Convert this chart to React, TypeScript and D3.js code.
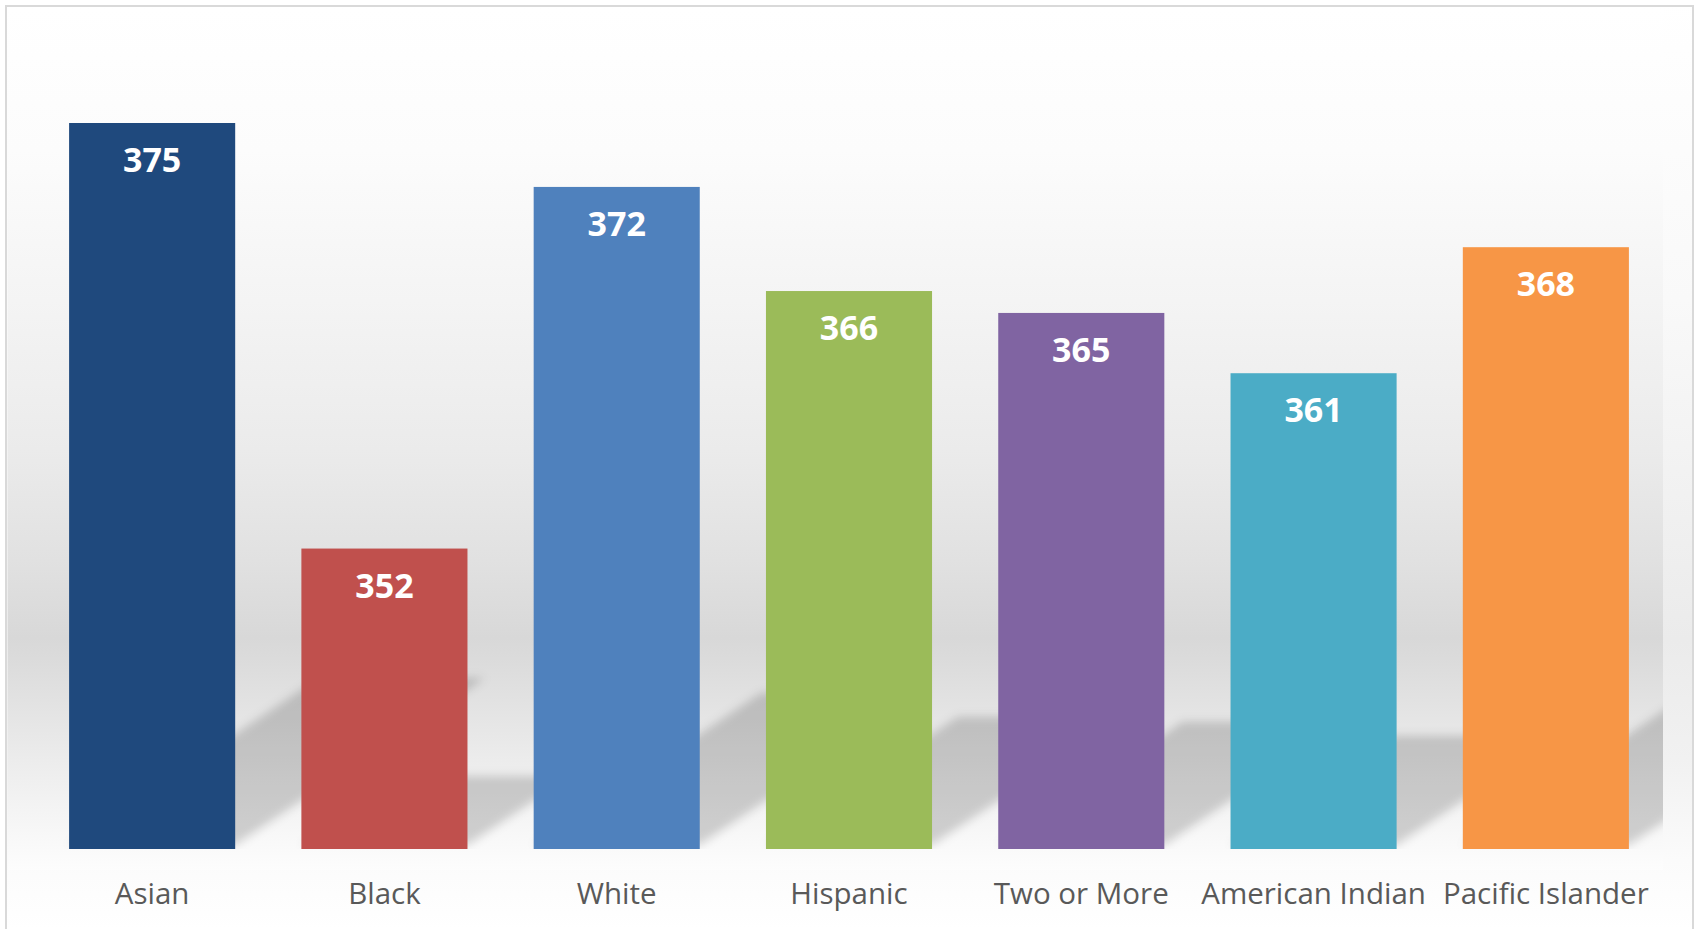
import React, { useEffect } from "react";
import * as d3 from "d3";

const categories = ["Asian", "Black", "White", "Hispanic", "Two or More", "American Indian", "Pacific Islander"];
const values = [375.1, 351.8, 371.6, 365.9, 364.7, 361.4, 368.3];
const labels = ["375", "352", "372", "366", "365", "361", "368"];
const colors = ["#1F497D", "#C0504D", "#4F81BD", "#9BBB59", "#8064A2", "#4BACC6", "#F79646"];

const W = 1697;
const H = 929;
const PLOT = { left: 8, right: 1663, top: 8, bottom: 870 };
const X_RANGE: [number, number] = [36, 1662];
const Y_DOMAIN: [number, number] = [335.35, 375.1];
const Y_RANGE: [number, number] = [849, 123];
const SHADOW_K = 0.23;
const SHADOW_S = 0.344;

export default function App() {
  useEffect(() => {
    document.body.style.margin = "0";
  }, []);

  const x = d3.scaleBand<string>().domain(categories).range(X_RANGE).paddingInner(0.285).paddingOuter(0.1425);
  const y = d3.scaleLinear().domain(Y_DOMAIN).range(Y_RANGE);
  const base = y(Y_DOMAIN[0]);

  const plotStops: [number, string][] = [
    [8, "#ffffff"], [150, "#fcfcfc"], [300, "#f4f4f4"], [450, "#ebebeb"], [560, "#e1e1e1"],
    [638, "#d8d8d8"], [665, "#dcdcdc"], [760, "#ececec"], [850, "#fafafa"], [870, "#fdfdfd"],
  ];
  const chartStops: [number, string][] = [
    [0, "#ffffff"], [300, "#f9f9f9"], [640, "#ebebeb"], [760, "#f1f1f1"], [860, "#fbfbfb"], [929, "#ffffff"],
  ];

  const shadowPath = (i: number) => {
    const x0 = x(categories[i])!;
    const x1 = x0 + x.bandwidth();
    const h = base - y(values[i]);
    const dx = h * SHADOW_S;
    const dy = h * SHADOW_K;
    const b = base - 4;
    return `M${x0},${b}L${x1},${b}L${x1 + dx},${b - dy}L${x0 + dx},${b - dy}Z`;
  };

  return (
    <svg width={W} height={H} style={{ display: "block" }} fontFamily="'Open Sans', sans-serif">
      <defs>
        <linearGradient id="plotGrad" gradientUnits="userSpaceOnUse" x1="0" y1={PLOT.top} x2="0" y2={PLOT.bottom}>
          {plotStops.map(([p, c], i) => (
            <stop key={i} offset={(p - PLOT.top) / (PLOT.bottom - PLOT.top)} stopColor={c} />
          ))}
        </linearGradient>
        <linearGradient id="chartGrad" gradientUnits="userSpaceOnUse" x1="0" y1="0" x2="0" y2={H}>
          {chartStops.map(([p, c], i) => (
            <stop key={i} offset={p / H} stopColor={c} />
          ))}
        </linearGradient>
        <filter id="blur" x="-20%" y="-20%" width="140%" height="140%">
          <feGaussianBlur stdDeviation="5" />
        </filter>
        <clipPath id="plotClip">
          <rect x={PLOT.left} y={PLOT.top} width={PLOT.right - PLOT.left} height={base - PLOT.top} />
        </clipPath>
      </defs>
      <rect x={0} y={0} width={W} height={H} fill="#ffffff" />
      <rect x={6} y={6} width={1687} height={960} fill="url(#chartGrad)" stroke="#d9d9d9" strokeWidth={2} />
      <rect x={PLOT.left} y={PLOT.top} width={PLOT.right - PLOT.left} height={PLOT.bottom - PLOT.top} fill="url(#plotGrad)" />
      <g clipPath="url(#plotClip)">
        <g filter="url(#blur)">
          {categories.map((c, i) => (
            <path key={c} d={shadowPath(i)} fill="#000" fillOpacity={0.17} />
          ))}
        </g>
      </g>
      {categories.map((c, i) => (
        <rect
          key={c}
          x={x(c)!}
          y={y(values[i])}
          width={x.bandwidth()}
          height={base - y(values[i])}
          fill={colors[i]}
        />
      ))}
      {categories.map((c, i) => (
        <text
          key={c}
          x={x(c)! + x.bandwidth() / 2}
          y={y(values[i]) + 49}
          textAnchor="middle"
          fill="#ffffff"
          fontWeight="bold"
          fontSize={34}
        >
          {labels[i]}
        </text>
      ))}
      {categories.map((c) => (
        <text
          key={c}
          x={x(c)! + x.bandwidth() / 2}
          y={904}
          textAnchor="middle"
          fill="#595959"
          fontSize={29.5}
        >
          {c}
        </text>
      ))}
    </svg>
  );
}
